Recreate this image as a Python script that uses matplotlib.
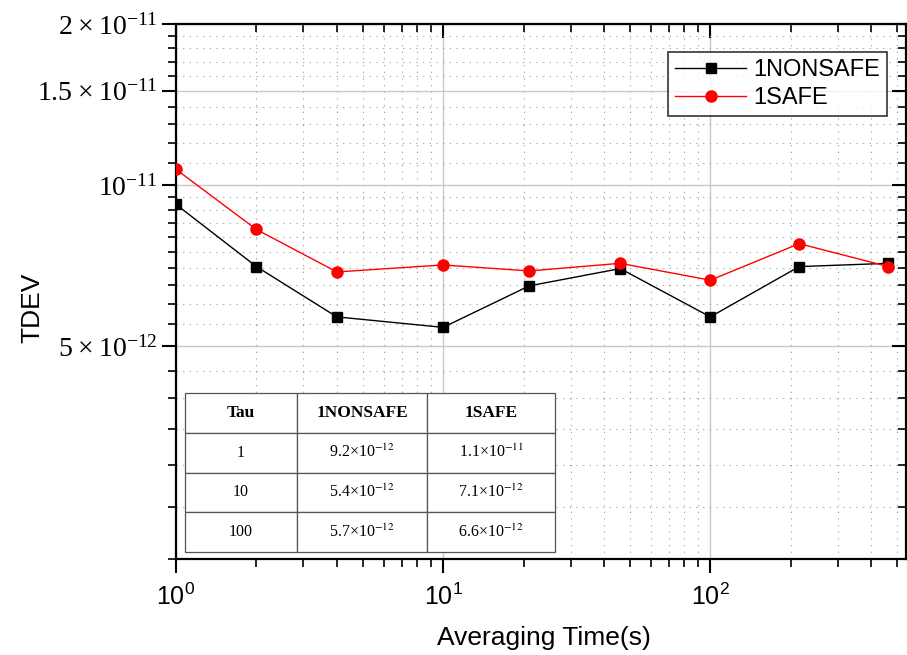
import matplotlib
matplotlib.use("Agg")
import matplotlib.pyplot as plt
from matplotlib.ticker import FixedLocator, FuncFormatter, NullFormatter
import numpy as np

# data
tau = [1, 2, 4, 10, 21, 46, 100, 215, 464]
nonsafe = [9.2e-12, 7.04e-12, 5.67e-12, 5.42e-12, 6.48e-12, 6.98e-12, 5.67e-12, 7.04e-12, 7.14e-12]
safe = [1.07e-11, 8.26e-12, 6.88e-12, 7.09e-12, 6.91e-12, 7.14e-12, 6.64e-12, 7.77e-12, 7.04e-12]

ytick_vals = [5e-12, 1e-11, 1.5e-11, 2e-11]
ytick_labels = [r"$\mathregular{5\times10^{-12}}$", r"$\mathregular{10^{-11}}$",
                r"$\mathregular{1.5\times10^{-11}}$", r"$\mathregular{2\times10^{-11}}$"]

table_cols = ["Tau", "1NONSAFE", "1SAFE"]
table_rows = [["1", r"9.2×10$^{-12}$", r"1.1×10$^{-11}$"],
              ["10", r"5.4×10$^{-12}$", r"7.1×10$^{-12}$"],
              ["100", r"5.7×10$^{-12}$", r"6.6×10$^{-12}$"]]

fig = plt.figure(figsize=(9.07, 6.55), dpi=100)
ax = fig.add_axes([176 / 907, 1 - 559 / 655, 730 / 907, 535 / 655])

ax.plot(tau, nonsafe, color="black", lw=1, marker="s", ms=7, label="1NONSAFE", zorder=4)
ax.plot(tau, safe, color="red", lw=1, marker="o", ms=8, label="1SAFE", zorder=4)

ax.set_xscale("log")
ax.set_yscale("log")
ax.set_xlim(1, 540)
ax.set_ylim(2e-12, 2e-11)

# y ticks
ax.yaxis.set_major_locator(FixedLocator(ytick_vals))
ax.yaxis.set_major_formatter(FuncFormatter(lambda v, p: ytick_labels[ytick_vals.index(v)] if v in ytick_vals else ""))
yminor = [v * 1e-13 for v in list(range(20, 100, 5)) + list(range(100, 200, 10)) if v * 1e-13 not in ytick_vals]
ax.yaxis.set_minor_locator(FixedLocator(yminor))
ax.yaxis.set_minor_formatter(NullFormatter())

ax.xaxis.set_major_formatter(FuncFormatter(lambda v, p: r"$\mathregular{10^{%d}}$" % round(np.log10(v))))

ax.tick_params(axis="y", which="major", labelsize=20, labelfontfamily="Liberation Serif")
ax.tick_params(axis="x", which="major", labelsize=18, labelfontfamily="Liberation Sans", pad=8)
ax.tick_params(axis="both", which="major", direction="out", length=10, width=1.5)
ax.tick_params(axis="both", which="minor", direction="out", length=6, width=1.2)
ax.tick_params(axis="both", which="both", right=True, top=True)
# ticks on the right and top spines point inward
for t in ax.yaxis.get_major_ticks() + ax.yaxis.get_minor_ticks():
    t.tick2line.set_marker(matplotlib.markers.TICKLEFT)
for t in ax.xaxis.get_major_ticks() + ax.xaxis.get_minor_ticks():
    t.tick2line.set_marker(matplotlib.markers.TICKDOWN)
for s in ax.spines.values():
    s.set_linewidth(1.6)

ax.grid(True, which="major", color="#c8c8c8", lw=1, ls="-")
ax.grid(True, which="minor", color="#9a9a9a", lw=0.8, ls=(0, (1, 5)))
ax.set_axisbelow(True)

fig.text(544 / 907, 1 - 638 / 655, "Averaging Time(s)", fontfamily="Liberation Sans", fontsize=19,
         ha="center", va="center")
fig.text(32 / 907, 1 - 308 / 655, "TDEV", fontfamily="Liberation Sans", fontsize=19,
         ha="center", va="center", rotation=90)

leg = ax.legend(loc="upper right", bbox_to_anchor=(0.974, 0.948), borderaxespad=0,
                prop={"family": "Liberation Sans", "size": 17},
                frameon=True, fancybox=False, edgecolor="black", handlelength=3.0,
                borderpad=0.3, labelspacing=0.25, handletextpad=0.3)
leg.get_frame().set_linewidth(1.2)
leg.set_zorder(6)

tbl = ax.table(cellText=table_rows, colLabels=table_cols, cellLoc="center",
               colWidths=[112, 130, 128], bbox=[0.0123, 0.013, 0.507, 0.297])
tbl.auto_set_font_size(False)
for (r, c), cell in tbl.get_celld().items():
    cell.set_edgecolor("#555555")
    cell.set_linewidth(0.9)
    cell.set_facecolor("white")
    t = cell.get_text()
    t.set_fontfamily("Liberation Serif")
    t.set_fontsize(11.5)
    t.set_math_fontfamily("stix")
    if r == 0:
        t.set_fontweight("bold")
        t.set_fontsize(12.5)
tbl.set_zorder(5)

fig.savefig("out.png", dpi=100)
